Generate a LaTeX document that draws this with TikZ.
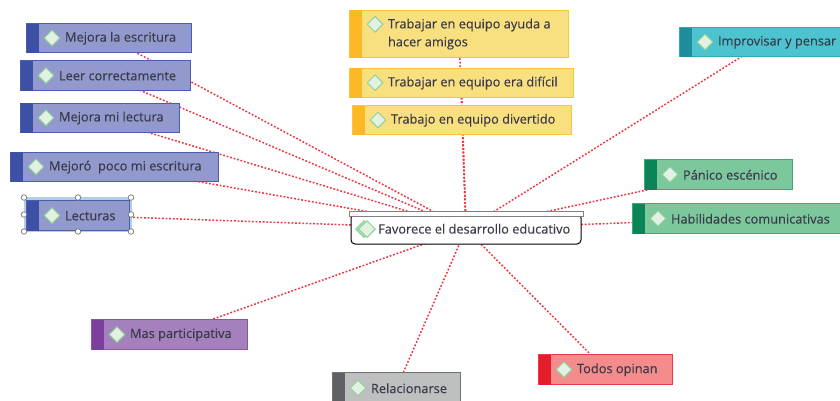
\documentclass[tikz,border=0pt]{standalone}
\usepackage{fontspec}
\setmainfont[FakeBold=0.25]{Open Sans}
\usetikzlibrary{shapes.geometric,backgrounds,calc}
\definecolor{txt}{HTML}{3A3A4A}
\definecolor{linkred}{HTML}{F0343E}
\definecolor{selband}{HTML}{B3CFE6}
\definecolor{bluefill}{HTML}{9199CD}\definecolor{blueedge}{HTML}{4A5DAE}\definecolor{bluebar}{HTML}{3C50A6}
\definecolor{yelfill}{HTML}{F9E07E}\definecolor{yeledge}{HTML}{FDC637}\definecolor{yelbar}{HTML}{FDB827}
\definecolor{tealfill}{HTML}{4DC3CF}\definecolor{tealedge}{HTML}{2FA9B6}\definecolor{tealbar}{HTML}{1E8C9B}
\definecolor{grnfill}{HTML}{7CC79C}\definecolor{grnedge}{HTML}{3FA873}\definecolor{grnbar}{HTML}{0B8457}
\definecolor{purfill}{HTML}{A480BC}\definecolor{puredge}{HTML}{8C56A8}\definecolor{purbar}{HTML}{7C3F9E}
\definecolor{gryfill}{HTML}{BEBFBF}\definecolor{gryedge}{HTML}{707273}\definecolor{grybar}{HTML}{5F6264}
\definecolor{redfill}{HTML}{F48C8C}\definecolor{rededge}{HTML}{EE3A43}\definecolor{redbar}{HTML}{E41E2B}
\definecolor{gemedge}{HTML}{8FD19A}
\definecolor{gemfill}{HTML}{E2F1E2}
\tikzset{
  x=1pt,y=-1pt,
  topicbox/.style={draw=#1edge,fill=#1fill,line width=1pt,inner sep=0pt,outer sep=0pt},
  topicbar/.style={fill=#1bar,draw=none},
  gem/.style={diamond,aspect=1,draw=gemedge,fill=gemfill,line width=1pt,inner sep=0pt,minimum size=16pt},
  label/.style={font=\fontsize{12.8}{18}\selectfont,text=txt,inner sep=0pt,anchor=west,align=left},
  link/.style={draw=linkred,line width=1.5pt,dash pattern=on 1.8pt off 1.8pt},
  handle/.style={circle,draw=black!55,fill=white,line width=.7pt,inner sep=0pt,minimum size=5.5pt},
}
% name, left, top, right, bottom, palette, gem shift, label
\newcommand{\topic}[8]{%
  \node[topicbox=#6,minimum width=#4pt-#2pt-1pt,minimum height=#5pt-#3pt-1pt] (#1) at ({(#2+#4)/2},{(#3+#5)/2}) {};
  \fill[topicbar=#6] (#1.north west) rectangle ($(#1.south west)+(12,0)$);
  \node[gem] (#1g) at ($(#1.west)+(25.5,#7)$) {};
  \node[label] (#1t) at ($(#1.west)+(38.3,0.3)$) {#8};
}
\begin{document}
\begin{tikzpicture}
\useasboundingbox (0,0) rectangle (840,400);
\clip (0,0) rectangle (840,400);
% selection frame
\node[draw=selband,fill=selband,line width=1pt,minimum width=107pt,minimum height=34pt,inner sep=0pt] (sel) at (78,214.5) {};
\topic{a}{26}{23}{192}{53}{blue}{0}{Mejora la escritura}
\topic{b}{20}{60}{190.5}{91}{blue}{0}{Leer correctamente}
\topic{c}{20}{102.5}{180}{133}{blue}{0}{Mejora mi lectura}
\topic{d}{10}{151.5}{219}{182}{blue}{0}{Mejoró\ \ poco mi escritura}
\topic{e}{26}{200}{130}{231}{blue}{0}{Lecturas}
\topic{f}{349}{9.5}{569}{58}{yel}{-9.5}{Trabajar en equipo ayuda a\\hacer amigos}
\topic{g}{349}{67.5}{574}{98}{yel}{0}{Trabajar en equipo era difícil}
\topic{h}{352}{105}{572}{135}{yel}{0}{Trabajo en equipo divertido}
\topic{i}{679}{27}{851}{57}{teal}{0}{Improvisar y pensar}
\topic{j}{644}{159}{793}{190}{grn}{0}{Pánico escénico}
\topic{k}{632}{203}{841}{234}{grn}{0}{Habilidades comunicativas}
\topic{l}{91}{319}{248}{350}{pur}{0}{Mas participativa}
\topic{m}{332}{372}{461}{404}{gry}{0}{Relacionarse}
\topic{n}{538}{354}{673}{385}{red}{0}{Todos opinan}
% central topic
\node[draw=black,fill=white,line width=1pt,rounded corners=4pt,minimum width=230pt,minimum height=30pt,inner sep=0pt] (z) at (466,229) {};
\node[draw=black!50,fill=white,line width=1pt,minimum width=234pt,minimum height=5pt,inner sep=0pt] (zbar) at (466.5,213.5) {};
\node[gem,draw=gemedge,fill=gemedge!70!white,minimum size=17pt] (zg2) at (364,229) {};
\node[gem,minimum size=17pt] (zg) at (367,229) {};
\node[label] (zt) at (378,228.8) {Favorece el desarrollo educativo};
% selection handles
\node[handle] (h1) at (24,197.5) {};
\node[handle] (h2) at (78,197.5) {};
\node[handle] (h3) at (131,197.5) {};
\node[handle] (h4) at (24,214.5) {};
\node[handle] (h5) at (131,214.5) {};
\node[handle] (h6) at (24,231.5) {};
\node[handle] (h7) at (78,231.5) {};
\node[handle] (h8) at (131,231.5) {};
\begin{pgfonlayer}{background}
\foreach \s in {a,b,c,d,e,f,g,h,i,j,k,l,m,n}
  \draw[link] (z.center) -- (\s.center);
\end{pgfonlayer}
\end{tikzpicture}
\end{document}
